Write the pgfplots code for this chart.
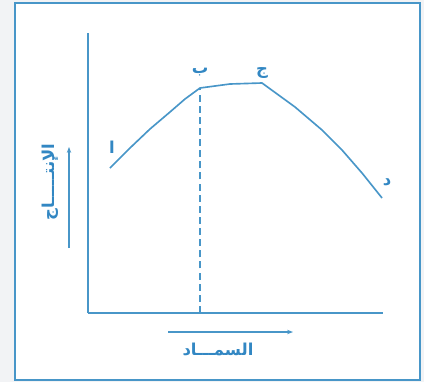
\documentclass[border=0pt]{standalone}
\usepackage{pgfplots}
\pgfplotsset{compat=1.18}
\usepackage{pgfplotstable}
\usepackage{fontspec}
\usetikzlibrary{arrows.meta}
\TeXXeTstate=1
\newfontfamily\arabicfont[Script=Arabic, BoldFont={DejaVu Sans Bold}]{DejaVu Sans}
\newcommand\ar[1]{{\arabicfont\bfseries\fontsize{14}{16}\selectfont\beginR #1\endR}}
\definecolor{lineblue}{RGB}{72,150,200}
\definecolor{textblue}{RGB}{50,135,195}
\definecolor{paper}{RGB}{242,243,245}

% production curve (fertilizer vs yield), arbitrary units
\pgfplotstableread{
x   y
22  145
42  165
62  184
82  201
97  214
112 225
142 229
174 230
207 206
234 183
254 163
274 140
294 115
}\curve

\begin{document}
\begin{tikzpicture}
\begin{axis}[
  set layers,
  x=0.03cm, y=0.03cm,
  xmin=0, xmax=295, ymin=0, ymax=280,
  axis lines=left,
  axis line style={-, draw=lineblue, line width=1.6pt},
  xtick=\empty, ytick=\empty,
  clip=false
]
\begin{pgfonlayer}{axis background}
\fill[paper] (axis cs:-88,-69) rectangle (axis cs:336,313);
\filldraw[fill=white, draw=lineblue, line width=1.4pt] (axis cs:-73,-67) rectangle (axis cs:332,310);
\end{pgfonlayer}
\addplot[lineblue, line width=1.4pt, mark=none] table {\curve};
\addplot[lineblue, line width=1.2pt, mark=none, dash pattern=on 6pt off 3.5pt] coordinates {(112,0) (112,225)};

\node[text=textblue] at (axis cs:24,166) {\ar{ا}};
\node[text=textblue] at (axis cs:112,241) {\ar{ب}};
\node[text=textblue] at (axis cs:174,240) {\ar{ج}};
\node[text=textblue] at (axis cs:299,131) {\ar{د}};

\draw[lineblue, line width=1pt, -{Stealth[length=5pt]}] (axis cs:80,-19) -- (axis cs:205,-19);
\node[text=textblue] at (axis cs:130,-36) {\ar{السمـــاد}};
\draw[lineblue, line width=1pt, -{Stealth[length=5pt]}] (axis cs:-19,65) -- (axis cs:-19,166);
\node[text=textblue, rotate=90] at (axis cs:-38,131) {\ar{الإنتـــــاج}};
\end{axis}
\end{tikzpicture}
\end{document}
